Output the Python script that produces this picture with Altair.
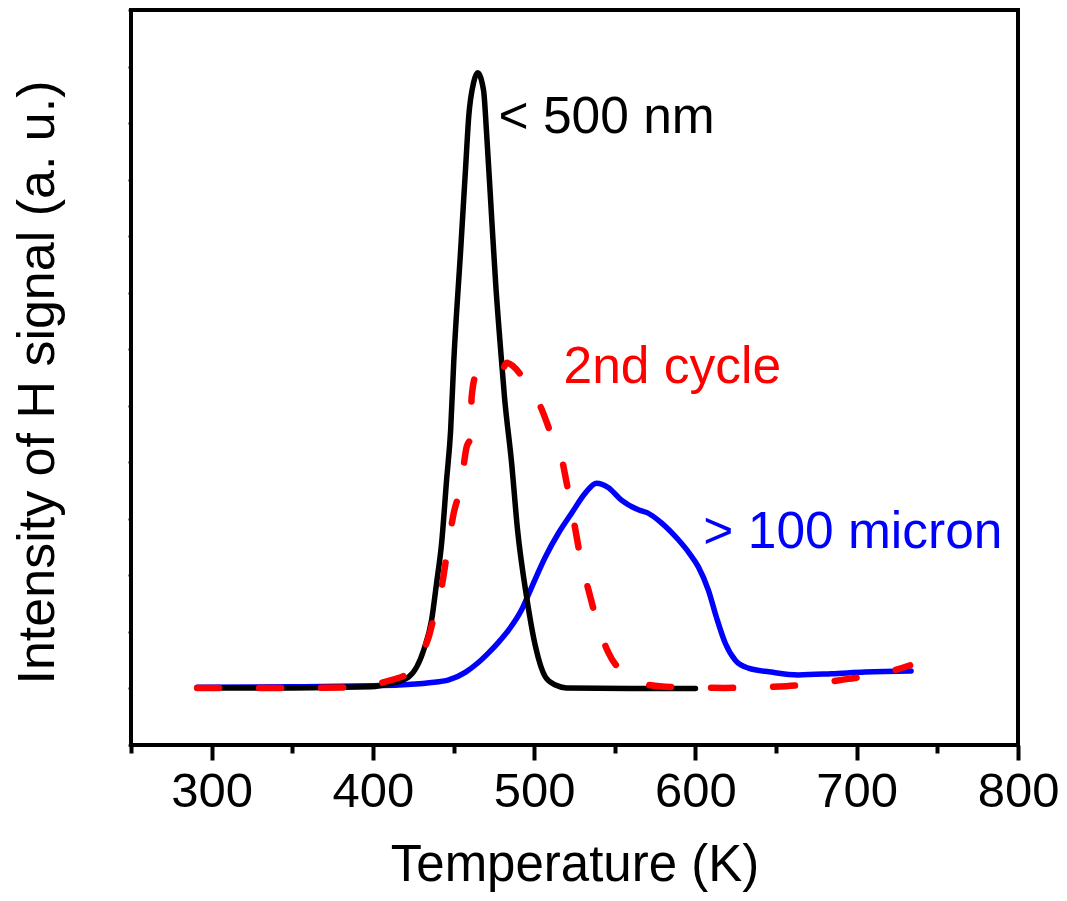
import altair as alt
import pandas as pd

# ---- data ----
t_nano = [291, 350, 399, 410, 422, 431.5, 436.4, 439.5, 442.6, 445.7, 448.2, 450.1, 454.4,
          457.5, 459.4, 462.4, 464.9, 468.6, 470.5, 473.6, 476.1, 479.2, 481.6, 486.0,
          489.7, 495.3, 500.9, 507.0, 513.2, 520, 560, 600]
v_nano = [1.01, 1.01, 1.03, 1.08, 1.20, 1.68, 2.21, 2.87, 3.57, 4.69, 5.57, 6.76, 8.75,
          10.22, 11.11, 11.71, 11.89, 11.58, 10.82, 9.34, 8.17, 6.99, 6.15, 4.99,
          3.80, 2.62, 1.73, 1.20, 1.06, 1.01, 1.0, 1.0]

t_cycle = [291, 350, 399, 405.5, 423, 430, 434.6, 438.9, 442, 446, 450.1, 454.4, 458.1,
           460.6, 461.2, 463.7, 470, 476, 480, 483, 487, 494.7, 504, 512, 517, 518.2,
           522.5, 525.6, 529.3, 533.7, 539.9, 546.1, 555.4, 564.6, 581.4, 618.5, 656.3,
           678, 694.7, 716.4, 733.1]
v_cycle = [1.01, 1.01, 1.03, 1.10, 1.29, 1.60, 1.91, 2.39, 2.70, 3.40, 4.10, 4.56, 5.27,
           5.45, 6.15, 6.51, 6.50, 6.45, 6.60, 6.76, 6.70, 6.42, 5.98, 5.39, 5.09, 4.92,
           4.28, 3.80, 3.22, 2.74, 2.09, 1.63, 1.27, 1.11, 1.03, 1.01, 1.04,
           1.10, 1.17, 1.27, 1.41]

t_micron = [291, 350, 400, 416, 435, 447, 457.5, 465, 471.7, 478, 484.1, 492.2, 498.4, 507,
            515.1, 523.2, 531.8, 538.6, 546.1, 554.1, 564.6, 570, 578.9, 589.4, 596,
            601.8, 608, 613, 618.5, 624.7, 632.8, 647, 663.7, 684.2, 705.2, 733.7]
v_micron = [1.02, 1.03, 1.05, 1.06, 1.10, 1.15, 1.29, 1.45, 1.63, 1.82, 2.03, 2.39, 2.79, 3.33,
            3.75, 4.10, 4.46, 4.63, 4.55, 4.33, 4.16, 4.11, 3.93, 3.63, 3.40,
            3.15, 2.74, 2.26, 1.80, 1.50, 1.36, 1.29, 1.24, 1.26, 1.29, 1.31]

label_text = ["< 500 nm", "2nd cycle", "> 100 micron"]
label_t = [477.9, 518.2, 604.9]
label_v = [10.82, 6.40, 3.49]
label_color = ["black", "#ff0000", "#0000ff"]

x_ticks = list(range(250, 801, 50))
y_ticks = list(range(0, 14))

FONT = "Liberation Sans"

x_scale = alt.Scale(domain=[250, 800], nice=False, zero=False)
y_scale = alt.Scale(domain=[0, 13], nice=False, zero=False)

x_axis = alt.Axis(
    title="Temperature (K)", values=x_ticks,
    labelExpr="datum.value % 100 == 0 ? datum.label : ''",
    tickSize=alt.condition("datum.value % 100 == 0", alt.value(15), alt.value(8)),
    tickWidth=4, tickColor="black", domain=False, grid=False,
    labelFont=FONT, labelFontSize=49, labelColor="black", labelPadding=7,
    labelFlush=False, labelOverlap=False,
    titleFont=FONT, titleFontSize=51, titleFontWeight="normal", titleColor="black",
    titleBaseline="alphabetic", titleY=135,
)
y_axis = alt.Axis(
    title="Intensity of H signal (a. u.)", values=y_ticks, labels=False,
    tickSize=3, tickWidth=2, tickColor="black", domain=False, grid=False,
    titleFont=FONT, titleFontSize=52, titleFontWeight="normal", titleColor="black",
    titleBaseline="alphabetic", titleX=-78, titleY=372,
)

def series(t, v):
    return pd.DataFrame({"T": t, "I": v})

blue = alt.Chart(series(t_micron, v_micron)).mark_line(
    color="#0000ff", strokeWidth=5.5, interpolate="monotone", strokeCap="round"
).encode(
    x=alt.X("T:Q", scale=x_scale, axis=x_axis),
    y=alt.Y("I:Q", scale=y_scale, axis=y_axis),
)
black = alt.Chart(series(t_nano, v_nano)).mark_line(
    color="black", strokeWidth=5.5, interpolate="monotone", strokeCap="round"
).encode(x=alt.X("T:Q", scale=x_scale), y=alt.Y("I:Q", scale=y_scale))
red = alt.Chart(series(t_cycle, v_cycle)).mark_line(
    color="#ff0000", strokeWidth=6.5, interpolate="monotone", strokeCap="round",
    strokeDash=[22, 40]
).encode(x=alt.X("T:Q", scale=x_scale), y=alt.Y("I:Q", scale=y_scale))

labels = alt.Chart(pd.DataFrame({"text": label_text, "T": label_t, "I": label_v,
                                 "c": label_color})).mark_text(
    font=FONT, fontSize=51.5, align="left", baseline="alphabetic"
).encode(
    x=alt.X("T:Q", scale=x_scale), y=alt.Y("I:Q", scale=y_scale),
    text="text:N", color=alt.Color("c:N", scale=None),
)

chart = alt.layer(blue, black, red, labels).properties(
    width=887, height=735,
    autosize=alt.AutoSizeParams(type="none"),
    padding={"left": 123, "top": 2, "right": 41, "bottom": 148},
    background="white",
).configure_view(stroke="black", strokeWidth=4)

chart.save("out.html", embed_options={"renderer": "svg", "actions": False})
